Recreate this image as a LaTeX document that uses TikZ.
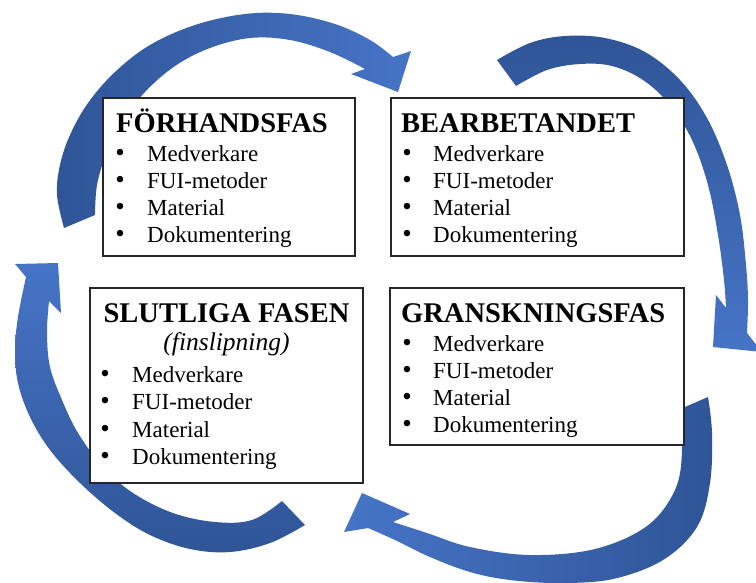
\documentclass[tikz,border=0pt]{standalone}
\usepackage{fontspec}
\setmainfont{Liberation Serif}
\definecolor{adark}{RGB}{47,85,151}
\definecolor{alight}{RGB}{70,116,198}
\begin{document}
\begin{tikzpicture}[x=1pt,y=-1pt,
  box/.style={draw=black!85, line width=1.2pt, fill=white, anchor=north west, inner sep=0pt, outer sep=0pt},
  headtxt/.style={font=\fontsize{28.5}{30}\selectfont\bfseries, anchor=base west, inner sep=0pt},
  itemtxt/.style={font=\fontsize{23}{26}\selectfont, anchor=base west, inner sep=0pt},
  bultxt/.style={font=\fontsize{27}{30}\selectfont, anchor=base, inner sep=0pt}]
\useasboundingbox (0,0) rectangle (756,582);
\begin{scope}
\clip (0,0) rectangle (756,582);
% arrow 1 (top-left, clockwise to the top right)
\shade[left color=adark, right color=alight]
  plot[smooth, tension=0.6] coordinates {(64,228) (57,195) (60,165) (70,135) (88,103) (115,72) (150,45) (195,25) (245,14) (290,14) (335,24) (370,40) (393,57)}
  -- (411,51) -- (398,92) -- (351,74)
  -- plot[smooth, tension=0.6] coordinates {(365,69) (330,52) (290,40) (250,38) (210,48) (175,66) (145,92) (122,122) (106,155) (97,185) (95,215)}
  -- cycle;
% arrow 2 (top-right, down the right side)
\shade[top color=adark, bottom color=alight]
  plot[smooth, tension=0.6] coordinates {(497,60) (530,43) (565,36) (605,38) (645,52) (680,80) (707,118) (727,165) (740,215) (746,265) (748,300) (747,333)}
  -- (762,352) -- (713,347) -- (716,295)
  -- plot[smooth, tension=0.6] coordinates {(726,308) (724,280) (718,235) (708,185) (692,140) (670,105) (643,80) (612,66) (580,64) (547,70) (516,86)}
  -- cycle;
% arrow 3 (bottom-right, along the bottom to the left)
\shade[right color=adark, left color=alight]
  plot[smooth, tension=0.6] coordinates {(708,397) (712,433) (710,483) (697,527) (663,560) (613,579) (560,583) (510,580) (470,572) (430,557) (395,540) (368,528)}
  -- (344,532) -- (362,493) -- (410,514)
  -- plot[smooth, tension=0.6] coordinates {(393,522) (427,533) (470,547) (530,555) (595,549) (647,526) (675,490) (682,450) (678,410)}
  -- cycle;
% arrow 4 (bottom-left, up the left side)
\shade[bottom color=adark, top color=alight]
  plot[smooth, tension=0.6] coordinates {(305,525) (270,543) (230,552) (190,549) (150,535) (115,513) (80,483) (50,450) (30,417) (18,383) (15,350) (18,317) (26,277)}
  -- (15,264) -- (58,263) -- (61,313)
  -- plot[smooth, tension=0.6] coordinates {(49,301) (47,333) (50,367) (62,400) (78,433) (103,467) (133,493) (173,513) (215,522) (252,520) (282,501)}
  -- cycle;
\end{scope}
% boxes
\node[box, minimum width=252pt, minimum height=158pt] (box1) at (103,98) {};
\node[box, minimum width=293pt, minimum height=158pt] (box2) at (391,98) {};
\node[box, minimum width=273pt, minimum height=195pt] (box3) at (90,288) {};
\node[box, minimum width=294pt, minimum height=157pt] (box4) at (390,288) {};
% box 1
\node[headtxt] (h1) at (116,132) {FÖRHANDSFAS};
\foreach \t [count=\i] in {Medverkare, FUI-metoder, Material, Dokumentering} {
  \node[bultxt] (b1\i) at (120,{161+27.3*(\i-1)}) {•};
  \node[itemtxt] (t1\i) at (147,{161+27.3*(\i-1)}) {\t};
}
% box 2
\node[headtxt] (h2) at (401,132) {BEARBETANDET};
\foreach \t [count=\i] in {Medverkare, FUI-metoder, Material, Dokumentering} {
  \node[bultxt] (b2\i) at (407,{161+27.3*(\i-1)}) {•};
  \node[itemtxt] (t2\i) at (433,{161+27.3*(\i-1)}) {\t};
}
% box 3
\node[headtxt, anchor=base] (h3) at (226.5,322) {SLUTLIGA FASEN};
\node[itemtxt, anchor=base, font=\fontsize{25.5}{28}\selectfont\itshape] (s3) at (226.5,350) {(finslipning)};
\foreach \t [count=\i] in {Medverkare, FUI-metoder, Material, Dokumentering} {
  \node[bultxt] (b3\i) at (105,{382.5+27.3*(\i-1)}) {•};
  \node[itemtxt] (t3\i) at (132,{382.5+27.3*(\i-1)}) {\t};
}
% box 4
\node[headtxt] (h4) at (401,322) {GRANSKNINGSFAS};
\foreach \t [count=\i] in {Medverkare, FUI-metoder, Material, Dokumentering} {
  \node[bultxt] (b4\i) at (407,{351+27.3*(\i-1)}) {•};
  \node[itemtxt] (t4\i) at (433,{351+27.3*(\i-1)}) {\t};
}
\end{tikzpicture}
\end{document}
